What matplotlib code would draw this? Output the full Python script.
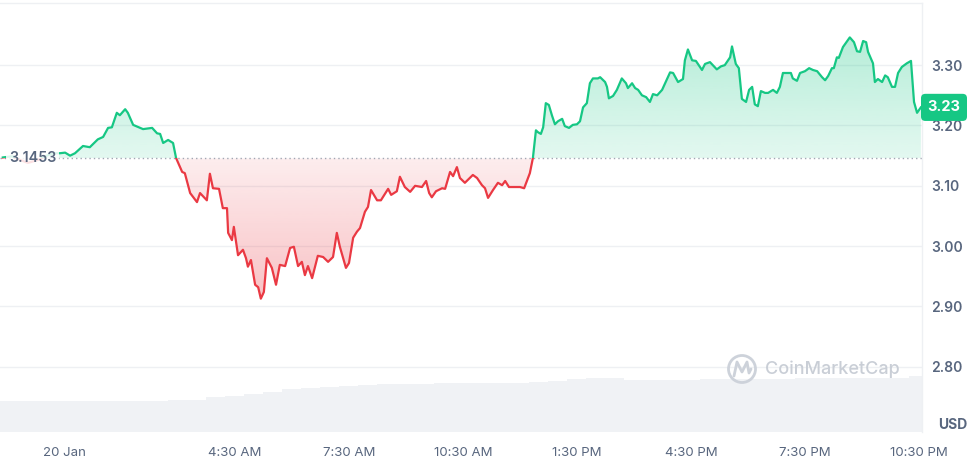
import numpy as np
import matplotlib
matplotlib.use('Agg')
import matplotlib.pyplot as plt
import matplotlib.colors as mcolors
import matplotlib.transforms as mtransforms
from matplotlib.patches import Rectangle, Circle
from matplotlib.path import Path
from matplotlib.lines import Line2D

# hours relative to 20 Jan 00:00
hours = [
    -1.61, -1.37, -1.16, -0.95, -0.68, -0.42, -0.24,
    -0.11, 0.03, 0.16, 0.29, 0.50, 0.68, 0.89, 1.03, 1.16, 1.26,
    1.39, 1.47, 1.61, 1.68, 1.82, 2.08, 2.32, 2.45, 2.53, 2.61,
    2.74, 2.87, 2.95,
    3.11, 3.18, 3.32, 3.50, 3.58, 3.76, 3.84, 3.92, 4.08, 4.18,
    4.29, 4.32, 4.42, 4.47, 4.58, 4.71, 4.79, 4.84, 4.92, 5.03,
    5.11, 5.18, 5.26, 5.34, 5.47, 5.58, 5.68, 5.82, 5.95, 6.05,
    6.16, 6.26, 6.34, 6.42, 6.53, 6.68, 6.82, 6.95, 7.08, 7.18,
    7.26, 7.42, 7.50, 7.61, 7.71, 7.79, 7.92, 8.00, 8.08, 8.24,
    8.34, 8.53, 8.61, 8.76, 8.84, 8.97, 9.11, 9.24, 9.42, 9.53,
    9.61, 9.68, 9.79, 9.95, 10.03, 10.16, 10.24, 10.34, 10.42, 10.55,
    10.68, 10.76, 10.87, 11.00, 11.08, 11.16, 11.29, 11.42, 11.53, 11.61,
    11.71, 11.87, 12.00, 12.11, 12.26, 12.34,
    12.42, 12.47, 12.55, 12.61, 12.68, 12.76, 12.84, 12.92, 13.00, 13.11,
    13.18, 13.29, 13.39, 13.50, 13.58, 13.66, 13.76, 13.84, 13.92, 14.05,
    14.11, 14.24, 14.29, 14.34, 14.45, 14.55, 14.68, 14.79, 14.84, 14.95,
    15.03, 15.11, 15.21, 15.32, 15.42, 15.50, 15.61, 15.74, 15.87, 15.95,
    16.03, 16.16, 16.29, 16.34, 16.42, 16.53, 16.63, 16.79, 16.87, 17.00,
    17.18, 17.29, 17.39, 17.53, 17.58, 17.68, 17.76, 17.84, 17.95, 18.03,
    18.11, 18.18, 18.26, 18.34, 18.45, 18.53, 18.66, 18.76, 18.84, 18.92,
    19.03, 19.13, 19.18, 19.29, 19.37, 19.50, 19.61, 19.71, 19.82, 19.95,
    20.03, 20.11, 20.21, 20.26, 20.34, 20.39, 20.50, 20.68, 20.79, 20.87,
    20.95, 21.03, 21.11, 21.16, 21.29, 21.34, 21.42, 21.53, 21.61, 21.68,
    21.79, 21.87, 21.95, 22.05, 22.18, 22.29, 22.37, 22.45, 22.55,
]

price = [
    3.147, 3.149, 3.143, 3.138, 3.143, 3.151, 3.154,
    3.154, 3.155, 3.150, 3.154, 3.166, 3.164, 3.177, 3.181, 3.196, 3.197,
    3.221, 3.217, 3.227, 3.221, 3.201, 3.194, 3.196, 3.187, 3.186, 3.171,
    3.176, 3.171, 3.146,
    3.123, 3.121, 3.088, 3.073, 3.088, 3.076, 3.120, 3.096, 3.095, 3.063,
    3.063, 3.022, 3.010, 3.032, 2.985, 2.994, 2.980, 2.966, 2.977, 2.936,
    2.932, 2.913, 2.924, 2.980, 2.964, 2.936, 2.969, 2.967, 2.997, 2.999,
    2.967, 2.974, 2.952, 2.967, 2.947, 2.984, 2.982, 2.974, 2.982, 3.022,
    2.999, 2.964, 2.972, 3.014, 3.024, 3.030, 3.057, 3.065, 3.093, 3.076,
    3.076, 3.095, 3.085, 3.091, 3.115, 3.098, 3.090, 3.100, 3.098, 3.108,
    3.088, 3.081, 3.091, 3.096, 3.095, 3.123, 3.116, 3.131, 3.113, 3.105,
    3.113, 3.118, 3.113, 3.101, 3.096, 3.080, 3.093, 3.105, 3.101, 3.108,
    3.098, 3.098, 3.098, 3.096, 3.121, 3.146,
    3.192, 3.189, 3.186, 3.197, 3.237, 3.234, 3.217, 3.202, 3.207, 3.211,
    3.199, 3.196, 3.201, 3.202, 3.207, 3.230, 3.237, 3.270, 3.278, 3.278,
    3.280, 3.272, 3.264, 3.245, 3.249, 3.259, 3.278, 3.270, 3.262, 3.270,
    3.262, 3.259, 3.250, 3.247, 3.239, 3.252, 3.250, 3.259, 3.277, 3.288,
    3.287, 3.272, 3.277, 3.308, 3.326, 3.308, 3.307, 3.292, 3.302, 3.305,
    3.293, 3.298, 3.300, 3.313, 3.331, 3.302, 3.295, 3.244, 3.239, 3.259,
    3.264, 3.235, 3.232, 3.257, 3.254, 3.254, 3.259, 3.254, 3.264, 3.287,
    3.287, 3.287, 3.278, 3.274, 3.287, 3.290, 3.295, 3.292, 3.290, 3.280,
    3.275, 3.282, 3.295, 3.295, 3.313, 3.312, 3.330, 3.346, 3.338, 3.323,
    3.322, 3.340, 3.338, 3.322, 3.303, 3.272, 3.277, 3.272, 3.283, 3.280,
    3.264, 3.264, 3.287, 3.297, 3.303, 3.307, 3.239, 3.221, 3.230,
]

# volume bars every 30 min (billions USD)
vol_hours = np.arange(-1.5, 23.0, 0.5)
volume = [
    1.09, 1.09, 1.09, 1.09, 1.09, 1.09, 1.09, 1.10, 1.10, 1.12,
    1.13, 1.22, 1.27, 1.34, 1.41, 1.49, 1.53, 1.57, 1.60, 1.64,
    1.67, 1.68, 1.69, 1.70, 1.70, 1.71, 1.71, 1.72, 1.74, 1.78,
    1.86, 1.88, 1.89, 1.83, 1.82, 1.82, 1.82, 1.86, 1.86, 1.87,
    1.87, 1.87, 1.88, 1.88, 1.88, 1.88, 1.89, 1.90, 1.96,
]

open_price = 3.1453
last_price = 3.23
price_ticks = [2.80, 2.90, 3.00, 3.10, 3.20, 3.30]
time_ticks = [0, 4.5, 7.5, 10.5, 13.5, 16.5, 19.5, 22.5]
time_labels = ['20 Jan', '4:30 AM', '7:30 AM', '10:30 AM', '1:30 PM',
               '4:30 PM', '7:30 PM', '10:30 PM']

GREEN = '#16c784'
RED = '#ea3943'
GREY = '#58667e'
GRID = '#eef0f3'

plt.rcParams['font.family'] = ['Inter', 'DejaVu Sans']

W, H = 971, 457
fig = plt.figure(figsize=(W / 100, H / 100), dpi=100)
ax = fig.add_axes([0, 25 / H, 922 / W, 429 / H])
vax = ax.twinx()
ax.set_zorder(vax.get_zorder() + 1)
ax.patch.set_visible(False)

# volume
vax.bar(vol_hours, volume, width=0.5, color='#f0f2f5', linewidth=0)
vax.set_ylim(0, 15.0)
vax.set_yticks([])
for s in vax.spines.values():
    s.set_visible(False)

xlim = (-1.684, 22.58)
ax.set_xlim(xlim)
ax.set_ylim(2.692, 3.403)

hours_a = np.array(hours)
price_a = np.array(price)


def gradient_fill(mask, color, lo, hi, a_top, a_bottom):
    coll = ax.fill_between(hours_a, price_a, open_price, where=mask,
                           interpolate=True, facecolor='none',
                           edgecolor='none')
    path = Path.make_compound_path(*coll.get_paths())
    rgba = np.zeros((256, 1, 4))
    rgba[..., :3] = mcolors.to_rgb(color)
    rgba[:, 0, 3] = np.linspace(a_top, a_bottom, 256)
    im = ax.imshow(rgba, extent=[xlim[0], xlim[1], lo, hi], origin='upper',
                   aspect='auto', zorder=1, interpolation='bilinear')
    im.set_clip_path(path, transform=ax.transData)


gradient_fill(price_a >= open_price, GREEN, open_price, 3.35, 0.32, 0.12)
gradient_fill(price_a <= open_price, RED, 2.90, open_price, 0.09, 0.32)

# price line, green above the open and red below
up, = ax.plot(hours, price, color=GREEN, lw=1.6, zorder=3,
              solid_joinstyle='round')
up.set_clip_path(Rectangle((-5, open_price), 40, 5, transform=ax.transData))
dn, = ax.plot(hours, price, color=RED, lw=1.6, zorder=3,
              solid_joinstyle='round')
dn.set_clip_path(Rectangle((-5, open_price - 5), 40, 5,
                           transform=ax.transData))

ax.axhline(open_price, color='#a1a7b3', lw=1, ls=(0, (1, 2.2)), zorder=2)

ax.set_aspect('auto')
ax.set_xlim(xlim)
ax.set_ylim(2.692, 3.403)

# axes styling
ax.set_yticks(price_ticks)
ax.set_yticklabels(['%.2f' % t for t in price_ticks])
ax.yaxis.tick_right()
ax.set_xticks(time_ticks)
ax.set_xticklabels(time_labels)
ax.tick_params(axis='y', length=0, pad=6.5, labelsize=10, labelcolor=GREY)
ax.tick_params(axis='x', length=0, pad=10.5, labelsize=9.5, labelcolor=GREY)
for lab in ax.get_yticklabels():
    lab.set_fontweight('semibold')
ax.grid(axis='y', color=GRID, lw=1, zorder=0)
ax.set_axisbelow(True)
for side in ['left', 'bottom']:
    ax.spines[side].set_visible(False)
for side in ['top', 'right']:
    ax.spines[side].set_color(GRID)
    ax.spines[side].set_linewidth(1)

# open price label
blend = mtransforms.blended_transform_factory(ax.transAxes, ax.transData)
ax.text(0.010, open_price, '3.1453', transform=blend, ha='left', va='center',
        fontsize=10.3, color=GREY, fontweight='semibold', zorder=5,
        bbox=dict(boxstyle='square,pad=0.2', fc='white', ec='none',
                  alpha=0.85))

# current price tag
ax.text(944 / 922, last_price, '%.2f' % last_price, transform=blend,
        ha='center', va='center', fontsize=10.5, color='white',
        fontweight='bold', zorder=6, clip_on=False,
        bbox=dict(boxstyle='round,pad=0.45,rounding_size=0.3', fc=GREEN,
                  ec='none'))

fig.text(953 / W, 1 - 425 / H, 'USD', ha='center', va='center',
         fontsize=10, color=GREY, fontweight='bold')

# watermark
cx, cy = 742 / W, 1 - 369 / H
fig.patches.append(Circle((cx * W, cy * H), 13.5, transform=None,
                          fill=False, ec='#cdd2da', lw=2))
mx = np.array([734, 737, 742, 747, 749, 751]) / W
my = 1 - np.array([376, 362, 372, 362, 373, 369]) / H
fig.lines.append(Line2D(mx, my, transform=fig.transFigure, color='#cdd2da',
                        lw=2, solid_joinstyle='round',
                        solid_capstyle='round'))
fig.text(765 / W, cy, 'CoinMarketCap', ha='left', va='center', fontsize=13,
         color='#c9ced6', fontweight='medium')

fig.savefig('out.png', dpi=100)
